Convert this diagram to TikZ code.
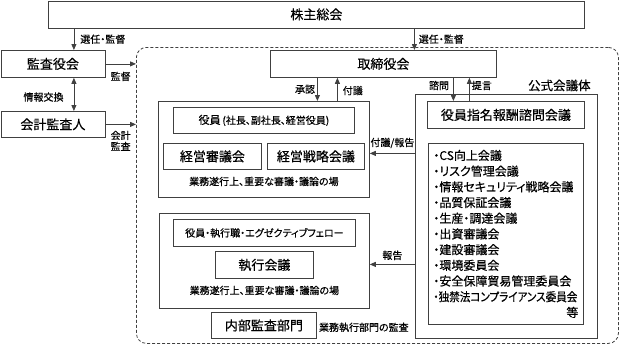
\documentclass[tikz,border=0pt]{standalone}
\usepackage{fontspec}
\setmainfont{Noto Sans CJK JP}[RawFeature={+palt}, FakeBold=0.4]
\usetikzlibrary{arrows.meta, positioning}

\begin{document}
\begin{tikzpicture}[
    x=1pt, y=-1pt,
    wire/.style={draw=black!75, line width=0.8pt},
    blk/.style={rectangle, wire, fill=white, inner sep=0pt, anchor=north west,
                font=\fontsize{13}{15}\selectfont},
    grp/.style={rectangle, wire, inner sep=0pt, anchor=north west},
    lbl/.style={inner sep=0pt, font=\fontsize{10}{11}\selectfont},
    arrow/.style={wire, -{Triangle[length=6pt, width=5pt]}},
    dblarrow/.style={wire, {Triangle[length=6pt, width=5pt]}-{Triangle[length=6pt, width=5pt]}}
]
\useasboundingbox (0,0) rectangle (621,346);

% ---- Dashed frame: execution side ----
\node[grp, dash pattern=on 3pt off 2pt, rounded corners=10pt,
      minimum width=482pt, minimum height=296pt] (frame) at (136,47) {};

% ---- Top and left column ----
\node[blk, minimum width=536pt, minimum height=27pt] (sokai)  at (48,0.5)  {株主総会};
\node[blk, minimum width=104pt, minimum height=27pt] (kansa)  at (0.5,50)  {監査役会};
\node[blk, minimum width=104pt, minimum height=26pt] (kaikei) at (0.5,111) {会計監査人};

% ---- Board ----
\node[blk, minimum width=226pt, minimum height=27pt] (torishimari) at (270,50) {取締役会};

% ---- Management meetings (upper group) ----
\node[grp, minimum width=211pt, minimum height=96pt] (grpA) at (158,101) {};
\node[blk, minimum width=181pt, minimum height=26pt, font=\fontsize{11}{13}\selectfont] (yakuin) at (173,107)
    {役員\,{\fontsize{10}{12}\selectfont (社長、副社長、経営役員)}};
\node[blk, minimum width=98pt, minimum height=26pt] (shingi)   at (163,143) {経営審議会};
\node[blk, minimum width=97pt, minimum height=26pt] (senryaku) at (267,143) {経営戦略会議};
\node[lbl, above=11.5pt of grpA.south] (baA) {業務遂行上、重要な審議・議論の場};

% ---- Executive meeting (lower group) ----
\node[grp, minimum width=210pt, minimum height=95pt] (grpB) at (159,213) {};
\node[blk, minimum width=182pt, minimum height=27pt, font=\fontsize{10}{12}\selectfont] (shikkoshoku) at (173,219)
    {役員・執行職・エグゼクティブフェロー};
\node[blk, minimum width=98pt, minimum height=27pt] (shikko) at (215,251) {執行会議};
\node[lbl, above=13.5pt of grpB.south] (baB) {業務遂行上、重要な審議・議論の場};

% ---- Internal audit ----
\node[blk, minimum width=105pt, minimum height=26pt] (naibu) at (211,312) {内部監査部門};
\node[lbl, right=2pt of naibu, yshift=-2pt] (naibuLbl) {業務執行部門の監査};

% ---- Official meeting bodies (right group) ----
\node[grp, minimum width=182pt, minimum height=244pt] (koushiki) at (415,94) {};
\node[lbl, font=\fontsize{12.5}{14}\selectfont, above left=2.5pt and 7pt of koushiki.north east] (koushikiLbl) {公式会議体};
\node[blk, minimum width=157pt, minimum height=27pt] (shimon) at (427,101) {役員指名報酬諮問会議};
\node[blk, minimum width=155pt, minimum height=181pt, inner xsep=5pt, text width=145pt, align=left,
      font=\fontsize{12}{15.7}\selectfont] (kaigi) at (428,143) {%
    ・CS向上会議\\
    ・リスク管理会議\\
    ・情報セキュリティ戦略会議\\
    ・品質保証会議\\
    ・生産・調達会議\\
    ・出資審議会\\
    ・建設審議会\\
    ・環境委員会\\
    ・安全保障貿易管理委員会\\
    \scalebox{0.88}[1]{・独禁法コンプライアンス委員会}\\
    \hspace*{\fill}等};

% ======== Shareholders: election and supervision ========
\draw[arrow] ([xshift=21pt]kansa.north |- sokai.south) -- node[lbl, right=6pt]{選任・監督} ([xshift=21pt]kansa.north);
\draw[arrow] ([xshift=31pt]torishimari.north |- sokai.south) -- node[lbl, right=4pt]{選任・監督} ([xshift=31pt]torishimari.north);

% ======== Audit side ========
\draw[arrow] (kansa.east) -- node[lbl, below=7.5pt]{監督} (kansa.east -| frame.west);
\draw[dblarrow] ([xshift=21pt]kansa.south) -- node[lbl, left=10pt, pos=0.58]{情報交換} ([xshift=21pt]kaikei.north);
\draw[arrow] (kaikei.east) -- node[lbl, below=6pt, align=center, font=\fontsize{10}{11}\selectfont]{会計\\監査} (kaikei.east -| frame.west);

% ======== Board <-> management ========
\draw[arrow] ([xshift=-66pt]torishimari.south) -- node[lbl, left=2pt]{承認} ([xshift=-66pt]torishimari.south |- grpA.north);
\draw[arrow] ([xshift=-46pt]torishimari.south |- grpA.north) -- node[lbl, right=5pt, pos=0.45]{付議} ([xshift=-46pt]torishimari.south);
\draw[arrow] ([xshift=70pt]torishimari.south) -- node[lbl, left=4pt, pos=0.33]{諮問} ([xshift=70pt]torishimari.south |- shimon.north);
\draw[arrow] ([xshift=86pt]torishimari.south |- shimon.north) -- node[lbl, right=2pt, pos=0.67]{提言} ([xshift=86pt]torishimari.south);

% ======== Official bodies -> management ========
\draw[arrow] ([yshift=63pt]koushiki.west) -- node[lbl, above=5pt]{付議/報告} ([yshift=63pt]koushiki.west -| grpA.east);
\draw[arrow] ([yshift=-48pt]koushiki.west) -- node[lbl, above=4pt]{報告} ([yshift=-48pt]koushiki.west -| grpB.east);

\end{tikzpicture}
\end{document}
